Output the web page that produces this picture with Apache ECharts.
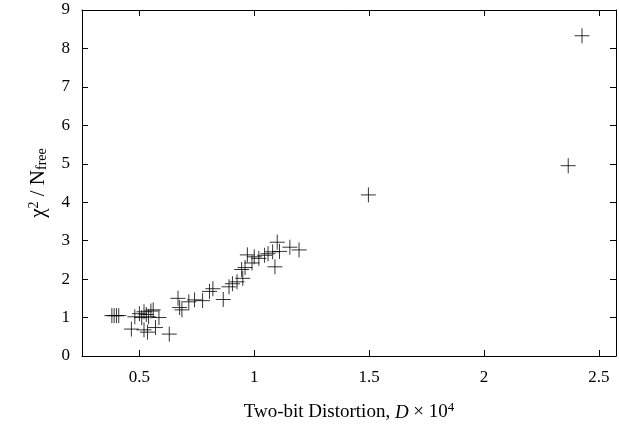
<!DOCTYPE html>
<html><head><meta charset="utf-8">
<script src="https://cdn.jsdelivr.net/npm/echarts@6/dist/echarts.min.js"></script>
<style>html,body{margin:0;padding:0;background:#fff}#c{width:619px;height:427px}</style>
</head><body><div id="c"></div>
<script>
var xTicks = [0.5, 1, 1.5, 2, 2.5];
var yTicks = [0,1,2,3,4,5,6,7,8,9];
var distortion = [0.38,0.39,0.40,0.41,0.48,0.50,0.52,0.53,0.54,0.55,0.56,0.585,0.51,0.465,0.52,0.535,0.57,0.63,
  0.668,0.675,0.685,0.715,0.74,0.775,0.805,0.82,0.865,0.89,0.905,0.925,0.945,0.95,0.96,0.97,0.99,1.0,1.02,1.045,1.06,1.08,1.09,1.10,1.11,1.155,1.195,
  1.497,2.367,2.427];
var chi2 = [1.05,1.05,1.05,1.05,1.02,1.10,1.15,1.08,1.02,1.17,1.20,1.00,1.00,0.70,0.68,0.62,0.74,0.57,
  1.50,1.26,1.20,1.41,1.46,1.44,1.68,1.75,1.47,1.80,1.88,1.93,2.25,2.02,2.30,2.63,2.42,2.58,2.54,2.62,2.66,2.71,2.32,2.96,2.72,2.83,2.76,
  4.19,4.95,8.33];
var pts = distortion.map(function(d,i){return [d, chi2[i]];});
var font = 'Liberation Serif';
var chart = echarts.init(document.getElementById('c'));
var lineStyle = {color:'#000', width:1};
chart.setOption({
  animation:false,
  grid:{left:82, right:3, top:10, bottom:71},
  xAxis:[{
    type:'value', min:0.25, max:2.575,
    axisLine:{show:true, onZero:false, lineStyle:lineStyle},
    axisTick:{show:true, inside:true, length:6, customValues:xTicks, lineStyle:lineStyle},
    axisLabel:{customValues:xTicks, margin:13, fontFamily:font, fontSize:17, color:'#000'},
    splitLine:{show:false},
    name:'{a|Two-bit Distortion, }{i|D}{a| × 10}{s|4}',
    nameLocation:'middle', nameGap:45,
    nameTextStyle:{rich:{
      a:{fontFamily:font, fontSize:19, color:'#000'},
      i:{fontFamily:font, fontSize:19, fontStyle:'italic', color:'#000'},
      s:{fontFamily:font, fontSize:13, color:'#000', verticalAlign:'top', padding:[0,0,10,0]}
    }}
  },{
    type:'value', position:'top', min:0.25, max:2.575,
    axisLine:{show:true, onZero:false, lineStyle:lineStyle},
    axisTick:{show:true, inside:true, length:6, customValues:xTicks, lineStyle:lineStyle},
    axisLabel:{show:false}, splitLine:{show:false}
  }],
  yAxis:[{
    type:'value', min:0, max:9, interval:1,
    axisLine:{show:true, onZero:false, lineStyle:lineStyle},
    axisTick:{show:true, inside:true, length:6, lineStyle:lineStyle},
    axisLabel:{margin:12, fontFamily:font, fontSize:17, color:'#000'},
    splitLine:{show:false},
    name:'{a|χ}{s|2}{a| / N}{b|free}',
    nameLocation:'middle', nameGap:33, nameRotate:90,
    nameTextStyle:{rich:{
      a:{fontFamily:font, fontSize:21, color:'#000'},
      s:{fontFamily:font, fontSize:14, color:'#000', verticalAlign:'top', padding:[0,0,8,0]},
      b:{fontFamily:font, fontSize:14, color:'#000', verticalAlign:'bottom', padding:[6,0,0,0]}
    }}
  },{
    type:'value', position:'right', min:0, max:9, interval:1,
    axisLine:{show:true, onZero:false, lineStyle:lineStyle},
    axisTick:{show:true, inside:true, length:6, lineStyle:lineStyle},
    axisLabel:{show:false}, splitLine:{show:false}
  }],
  series:[{
    type:'scatter', xAxisIndex:0, yAxisIndex:0,
    data:pts,
    symbol:'path://M0,7 L14,7 M7,0 L7,14',
    symbolSize:15,
    itemStyle:{color:'none', borderColor:'#000', borderWidth:1},
    emphasis:{disabled:true}
  }]
});
</script></body></html>
